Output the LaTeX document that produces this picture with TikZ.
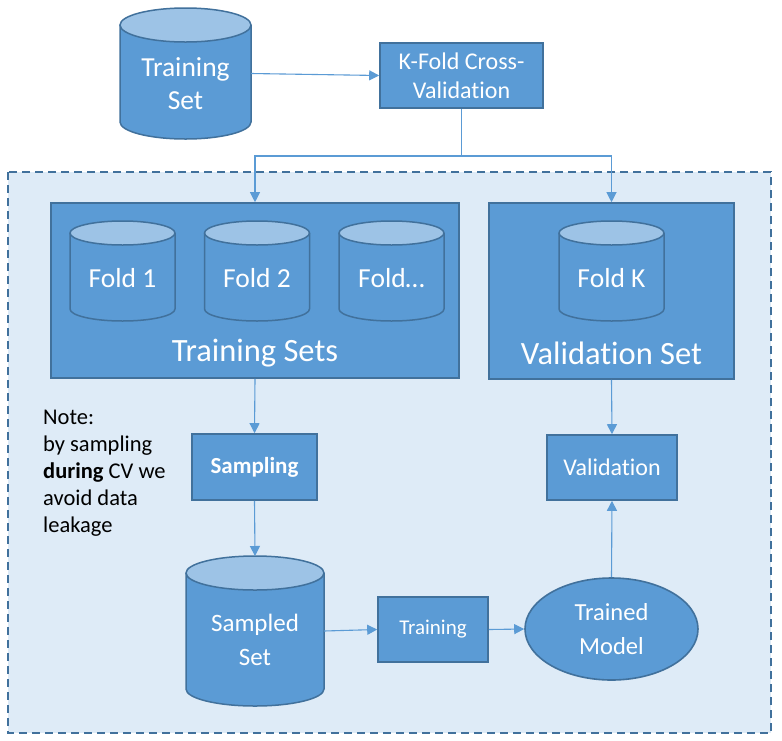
\documentclass[tikz,border=0pt]{standalone}
\usepackage{fontspec}
\setmainfont{Carlito}[Ligatures={NoCommon}]
\usetikzlibrary{arrows.meta,shapes.geometric}
\definecolor{cfill}{HTML}{5B9BD5}
\definecolor{cedge}{HTML}{41719C}
\definecolor{ctop}{HTML}{9DC3E6}
\definecolor{cbg}{HTML}{DEEBF7}
\definecolor{cline}{HTML}{5B9BD5}
\tikzset{
  boxnode/.style={shape=rectangle, fill=cfill, draw=cedge, line width=1.6pt, inner sep=0pt, text=white, align=center},
  anchorbox/.style={shape=rectangle, inner sep=0pt, outer sep=0pt},
  wtext/.style={text=white, align=center, inner sep=0pt},
  conn/.style={draw=cline, line width=1.1pt},
  arr/.style={conn, -{Triangle[length=10pt,width=10pt]}},
}
\newcommand\dbcyl[6]{%
  \fill[cfill] (#2-#5,#3+#6) -- (#2-#5,#4-#6) arc[start angle=180,end angle=360,x radius=#5pt,y radius=#6pt] -- (#2+#5,#3+#6) -- cycle;
  \draw[cedge,line width=1.5pt] (#2-#5,#3+#6) -- (#2-#5,#4-#6) arc[start angle=180,end angle=360,x radius=#5pt,y radius=#6pt] -- (#2+#5,#3+#6);
  \filldraw[fill=ctop,draw=cedge,line width=1.5pt] (#2,#3+#6) ellipse[x radius=#5pt,y radius=#6pt];
  \node[anchorbox,minimum width={2*#5pt},minimum height={(#4-#3)*1pt}] (#1) at (#2,{(#3+#4)/2}) {};
}
\begin{document}
\begin{tikzpicture}[x=1pt,y=-1pt]
\useasboundingbox[fill=white] (0,0) rectangle (782,740);
% dashed container
\draw[fill=cbg, draw=cedge, line width=2.2pt, dash pattern=on 8pt off 5pt] (8,172) rectangle (771,733);

% top
\dbcyl{ts}{185.5}{8}{139}{65.5}{17}
\node[wtext, font=\fontsize{27.5}{33}\selectfont] (tsT) at (185.5,84) {Training\\Set};
\node[boxnode, minimum width=163pt, minimum height=65pt, font=\fontsize{24}{29}\selectfont] (kf) at (461.5,75.5) {K-Fold Cross-\\Validation};

% training sets box
\node[boxnode, minimum width=408pt, minimum height=175pt] (tsb) at (255,290.5) {};
\dbcyl{f1}{122.5}{221}{321}{52.5}{12}
\dbcyl{f2}{257}{221}{321}{52.5}{12}
\dbcyl{f3}{391.5}{221}{321}{52.5}{12}
\node[wtext, font=\fontsize{27.5}{33}\selectfont] (f1T) at (122.5,278) {Fold 1};
\node[wtext, font=\fontsize{27.5}{33}\selectfont] (f2T) at (257,278) {Fold 2};
\node[wtext, font=\fontsize{27.5}{33}\selectfont] (f3T) at (391.5,278) {Fold\ldots};
\node[wtext, font=\fontsize{32.5}{38}\selectfont] (tsL) at (255,353) {Training Sets};

% validation set box
\node[boxnode, minimum width=245pt, minimum height=176pt] (vsb) at (611.5,291) {};
\dbcyl{fk}{611.5}{221}{321}{52.5}{12}
\node[wtext, font=\fontsize{27.5}{33}\selectfont] (fkT) at (611.5,278) {Fold K};
\node[wtext, font=\fontsize{32.5}{38}\selectfont] (vsL) at (611.5,353) {Validation Set};

% middle row
\node[anchor=north west, align=left, inner sep=0pt, font=\fontsize{22.5}{27}\selectfont] (note) at (43,410) {Note:\\by sampling\\\textbf{during} CV we\\avoid data\\leakage};
\node[boxnode, minimum width=125pt, minimum height=66pt, font=\fontsize{23}{28}\selectfont\bfseries] (samp) at (254.5,467) {Sampling};
\node[boxnode, minimum width=130pt, minimum height=65pt, font=\fontsize{24}{29}\selectfont] (val) at (612,467.5) {Validation};

% bottom row
\dbcyl{ss}{255}{556}{706}{69}{17}
\node[wtext, font=\fontsize{25}{34}\selectfont] (ssT) at (255,640) {Sampled\\Set};
\node[boxnode, minimum width=110pt, minimum height=65pt, font=\fontsize{21}{26}\selectfont] (trn) at (433,629.5) {Training};
\node[shape=ellipse, fill=cfill, draw=cedge, line width=1.6pt, inner sep=0pt, minimum width=173pt, minimum height=102pt, text=white, align=center, font=\fontsize{24.5}{34}\selectfont] (tm) at (611.5,629) {Trained\\Model};

% connectors
\coordinate (split) at (461.5,156);
\draw[arr] (ts.east) -- (kf.west);
\draw[conn] (kf.south) -- (split);
\draw[arr] (split) -| (tsb.north);
\draw[arr] (split) -| (vsb.north);
\draw[arr] (tsb.south) -- (samp.north);
\draw[arr] (samp.south) -- (ss.north);
\draw[arr] (ss.east) -- (trn.west);
\draw[arr] (trn.east) -- (tm.west);
\draw[arr] (tm.north) -- (val.south);
\draw[arr] (vsb.south) -- (val.north);
\end{tikzpicture}
\end{document}
